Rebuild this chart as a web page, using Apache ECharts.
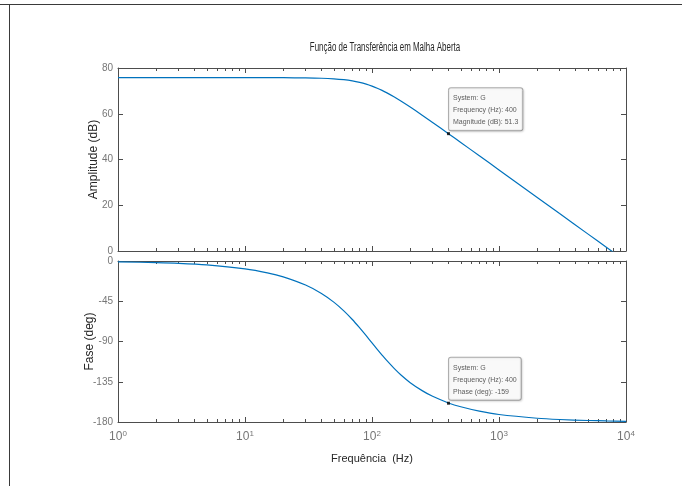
<!DOCTYPE html>
<html>
<head>
<meta charset="utf-8">
<script src="https://cdn.jsdelivr.net/npm/echarts@6/dist/echarts.min.js"></script>
<style>
html, body { margin: 0; padding: 0; background: #fff; }
#chart { width: 682px; height: 486px; }
</style>
</head>
<body>
<div id="chart"></div>
<script>
const freq = [1, 2, 3, 5, 10, 15, 20, 30, 40, 50, 60, 70, 80, 90, 100, 110, 120, 130, 150, 170, 200, 250, 300, 400, 500, 700, 1000, 2000, 3000, 5000, 7000, 10000];
const magnitude = [75.8, 75.8, 75.8, 75.8, 75.79, 75.77, 75.75, 75.66, 75.51, 75.26, 74.89, 74.38, 73.73, 72.97, 72.1, 71.17, 70.21, 69.23, 67.3, 65.46, 62.92, 59.27, 56.2, 51.29, 47.44, 41.62, 35.44, 23.41, 16.36, 7.49, 1.65, -4.55];
const phase = [-0.9, -1.8, -2.6, -4.4, -8.8, -13.2, -17.7, -26.9, -36.3, -46.0, -55.7, -65.4, -74.8, -83.5, -91.5, -98.8, -105.2, -110.9, -120.3, -127.7, -136.0, -145.2, -151.3, -158.7, -163.0, -167.9, -171.6, -175.8, -177.2, -178.3, -178.8, -179.2];
const decadeTicks = [1, 10, 100, 1000, 10000];
const ampTicks = [0, 20, 40, 60, 80];
const phaseTicks = [-180, -135, -90, -45, 0];
const tipFreq = 400;
const tipMag = 51.3;
const tipPhase = -159;

const minorTicks = [];
decadeTicks.slice(0, 4).forEach(d => {
  for (let k = 2; k <= 9; k++) minorTicks.push(d * k);
});

const axisColor = '#4d4d4d';
const labelColor = '#767676';
const sans = "'Liberation Sans', Arial, sans-serif";
const blue = '#0072BD';

function xAx (grid, pos, minor, labels) {
  return {
    type: 'log',
    logBase: 10,
    gridIndex: grid,
    position: pos,
    min: 1,
    max: 10000,
    axisLine: { show: !minor, onZero: false, lineStyle: { color: axisColor, width: 1 } },
    axisTick: {
      show: true,
      inside: true,
      length: minor ? 3 : 5,
      customValues: minor ? minorTicks : decadeTicks,
      lineStyle: { color: axisColor }
    },
    axisLabel: labels ? {
      show: true,
      margin: 8,
      customValues: decadeTicks,
      formatter: v => '{b|10}{s|' + Math.round(Math.log10(v)) + '}',
      rich: {
        b: { fontSize: 12, color: labelColor, fontFamily: sans, lineHeight: 14 },
        s: { fontSize: 8, color: labelColor, fontFamily: sans, lineHeight: 8, verticalAlign: 'top' }
      }
    } : { show: false },
    splitLine: { show: false },
    minorTick: { show: false },
    minorSplitLine: { show: false }
  };
}

function yAx (grid, pos, min, max, interval, ticks, name, gap) {
  return {
    type: 'value',
    gridIndex: grid,
    position: pos,
    min: min,
    max: max,
    interval: interval,
    name: name || '',
    nameLocation: 'middle',
    nameGap: gap || 0,
    nameMoveOverlap: false,
    nameTextStyle: { color: '#262626', fontSize: 12, fontFamily: sans },
    axisLine: { show: true, onZero: false, lineStyle: { color: axisColor, width: 1 } },
    axisTick: { show: true, inside: true, length: 5, lineStyle: { color: axisColor } },
    axisLabel: name ? { show: true, margin: 5, color: labelColor, fontSize: 10, fontFamily: sans } : { show: false },
    splitLine: { show: false }
  };
}

function tipLabel (lines) {
  return {
    show: true,
    position: [2, -44],
    formatter: lines.join('\n'),
    backgroundColor: '#fff',
    borderColor: '#9a9a9a',
    borderWidth: 1,
    borderRadius: 2,
    padding: [4, 4, 2, 4],
    color: '#333',
    fontSize: 7,
    lineHeight: 12,
    fontFamily: sans,
    shadowColor: 'rgba(0,0,0,0.15)',
    shadowBlur: 2,
    shadowOffsetX: 1,
    shadowOffsetY: 1
  };
}

const chart = echarts.init(document.getElementById('chart'), null, { renderer: 'canvas' });

const option = {
  animation: false,
  backgroundColor: '#fff',
  graphic: [
    { type: 'line', shape: { x1: 0, y1: 4.5, x2: 682, y2: 4.5 }, style: { stroke: '#3a3a3a', lineWidth: 1 } },
    { type: 'line', shape: { x1: 9.5, y1: 4, x2: 9.5, y2: 486 }, style: { stroke: '#3a3a3a', lineWidth: 1 } },
    {
      type: 'text',
      x: 385,
      y: 48,
      scaleX: 0.66,
      style: {
        text: 'Função de Transferência em Malha Aberta',
        fontSize: 12,
        fontFamily: sans,
        fill: '#262626',
        textAlign: 'center',
        textVerticalAlign: 'middle'
      }
    }
  ],
  grid: [
    { left: 118, top: 68, width: 508, height: 183 },
    { left: 118, top: 261, width: 508, height: 161 }
  ],
  xAxis: [
    xAx(0, 'bottom', false, false),
    xAx(0, 'top', false, false),
    xAx(0, 'bottom', true, false),
    xAx(0, 'top', true, false),
    Object.assign(xAx(1, 'bottom', false, true), {
      name: 'Frequência  (Hz)',
      nameLocation: 'middle',
      nameGap: 31,
      nameMoveOverlap: false,
      nameTextStyle: { color: '#262626', fontSize: 11, fontFamily: sans }
    }),
    xAx(1, 'top', false, false),
    xAx(1, 'bottom', true, false),
    xAx(1, 'top', true, false)
  ],
  yAxis: [
    yAx(0, 'left', ampTicks[0], ampTicks[ampTicks.length - 1], 20, ampTicks, 'Amplitude (dB)', 18),
    yAx(0, 'right', ampTicks[0], ampTicks[ampTicks.length - 1], 20, ampTicks),
    yAx(1, 'left', phaseTicks[0], phaseTicks[phaseTicks.length - 1], 45, phaseTicks, 'Fase (deg)', 22),
    yAx(1, 'right', phaseTicks[0], phaseTicks[phaseTicks.length - 1], 45, phaseTicks)
  ],
  series: [
    {
      type: 'line',
      xAxisIndex: 0,
      yAxisIndex: 0,
      data: freq.map((f, i) => [f, magnitude[i]]),
      showSymbol: false,
      smooth: 0.3,
      clip: true,
      lineStyle: { color: blue, width: 1.2 }
    },
    {
      type: 'line',
      xAxisIndex: 4,
      yAxisIndex: 2,
      data: freq.map((f, i) => [f, phase[i]]),
      showSymbol: false,
      smooth: 0.3,
      clip: true,
      lineStyle: { color: blue, width: 1.2 }
    },
    {
      type: 'scatter',
      xAxisIndex: 0,
      yAxisIndex: 0,
      symbol: 'rect',
      symbolSize: 3,
      itemStyle: { color: '#000' },
      data: [[tipFreq, tipMag]],
      label: tipLabel(['System: G', 'Frequency (Hz): ' + tipFreq, 'Magnitude (dB): ' + tipMag]),
      z: 5
    },
    {
      type: 'scatter',
      xAxisIndex: 4,
      yAxisIndex: 2,
      symbol: 'rect',
      symbolSize: 3,
      itemStyle: { color: '#000' },
      data: [[tipFreq, tipPhase]],
      label: tipLabel(['System: G', 'Frequency (Hz): ' + tipFreq, 'Phase (deg): ' + tipPhase]),
      z: 5
    }
  ]
};

chart.setOption(option);
</script>
</body>
</html>
